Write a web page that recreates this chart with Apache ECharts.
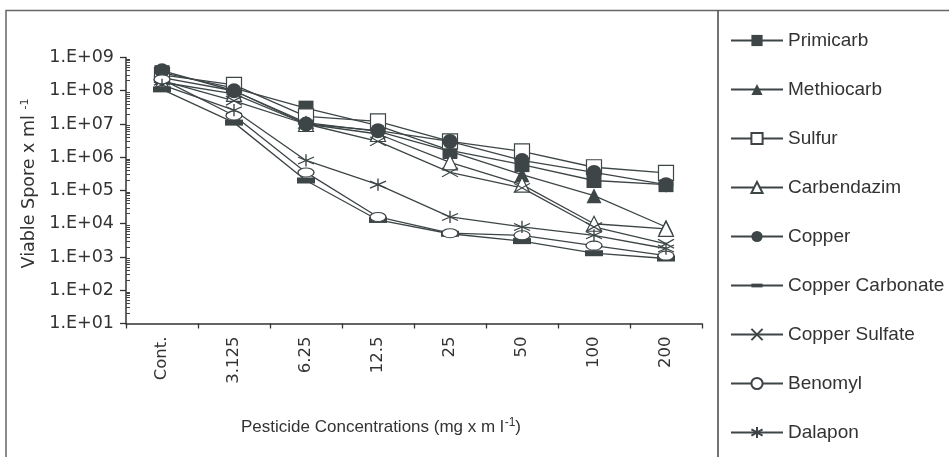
<!DOCTYPE html>
<html>
<head>
<meta charset="utf-8" />
<style>
  html, body { margin: 0; padding: 0; background: #fff; }
  #chart { width: 949px; height: 457px; }
</style>
<script src="https://cdn.jsdelivr.net/npm/echarts@6/dist/echarts.min.js"></script>
</head>
<body>
<div id="chart"></div>
<script>
  // concentrations on the x axis
  const concentrations = ['Cont.', '3.125', '6.25', '12.5', '25', '50', '100', '200']

  // viable spores per ml
  const primicarb       = [3.5e8, 1.2e8, 3.0e7, 9.0e6, 1.6e6, 6.0e5, 2.0e5, 1.5e5]
  const methiocarb      = [2.5e8, 1.0e8, 1.1e7, 6.0e6, 1.5e6, 3.0e5, 7.0e4, 8.0e3]
  const sulfur          = [3.0e8, 1.5e8, 1.7e7, 1.2e7, 3.0e6, 1.5e6, 5.0e5, 3.4e5]
  const carbendazim     = [1.8e8, 8.0e7, 1.0e7, 5.0e6, 7.0e5, 1.5e5, 1.0e4, 7.0e3]
  const copper          = [4.0e8, 1.0e8, 1.0e7, 6.3e6, 3.0e6, 8.0e5, 3.5e5, 1.5e5]
  const copperCarbonate = [1.1e8, 1.1e7, 2.0e5, 1.3e4, 5.0e3, 3.0e3, 1.3e3, 9.0e2]
  const copperSulfate   = [2.0e8, 5.0e7, 1.0e7, 3.0e6, 3.5e5, 1.2e5, 8.0e3, 2.5e3]
  const benomyl         = [2.2e8, 1.8e7, 3.5e5, 1.6e4, 5.2e3, 4.5e3, 2.2e3, 1.1e3]
  const dalapon         = [1.5e8, 2.6e7, 8.0e5, 1.5e5, 1.6e4, 8.0e3, 4.5e3, 1.8e3]

  // y tick labels, one per decade
  const yTickExponents = [1, 2, 3, 4, 5, 6, 7, 8, 9]
  const yTickLabels = ['1.E+01', '1.E+02', '1.E+03', '1.E+04', '1.E+05', '1.E+06', '1.E+07', '1.E+08', '1.E+09']

  const ink = '#3d4547'

  // minor ticks 2..9 inside each decade
  const minorTicks = []
  for (let k = 1; k < 9; k++) {
    for (let m = 2; m <= 9; m++) minorTicks.push(m * Math.pow(10, k))
  }

  const SYM_X = 'path://M0,0L16,12M16,0L0,12'
  const SYM_STAR = 'path://M8,0V14M0,3L16,11M0,11L16,3'
  // square bounding box with a flat bar in the middle, so the legend keeps it flat too
  const SYM_BAR = 'path://M0,0M30,30M0,10H30V20H0Z'
  const SYM_ELLIPSE = 'path://M0,6A8,6 0 1,1 16,6A8,6 0 1,1 0,6Z'

  function mkSeries(name, data, symbol, size, fill, stroke) {
    return {
      name: name,
      type: 'line',
      data: data,
      symbol: symbol,
      symbolSize: size,
      symbolKeepAspect: true,
      showAllSymbol: true,
      lineStyle: { color: ink, width: 1.3 },
      itemStyle: { color: fill, borderColor: ink, borderWidth: stroke },
      emphasis: { disabled: true },
      animation: false
    }
  }

  const series = [
    mkSeries('Primicarb', primicarb, 'rect', 15, ink, 0),
    mkSeries('Methiocarb', methiocarb, 'triangle', 15, ink, 0),
    mkSeries('Sulfur', sulfur, 'rect', 15, '#fff', 1.2),
    mkSeries('Carbendazim', carbendazim, 'triangle', 15, '#fff', 1.2),
    mkSeries('Copper', copper, 'circle', 15, ink, 0),
    mkSeries('Copper Carbonate', copperCarbonate, SYM_BAR, 18, ink, 0),
    mkSeries('Copper Sulfate', copperSulfate, SYM_X, [16, 12], 'none', 1.3),
    mkSeries('Benomyl', benomyl, SYM_ELLIPSE, [16, 12], '#fff', 1.2),
    mkSeries('Dalapon', dalapon, SYM_STAR, [16, 14], 'none', 1.3)
  ]

  const myChart = echarts.init(document.getElementById('chart'))

  const option = {
    animation: false,
    textStyle: { fontFamily: 'DejaVu Sans', color: '#333' },
    grid: { left: 126, top: 57.5, width: 576, height: 266 },
    legend: {
      orient: 'vertical',
      left: 730,
      top: 31,
      padding: 0,
      itemWidth: 52,
      itemHeight: 14,
      itemGap: 30,
      textStyle: { fontFamily: 'Liberation Sans', fontSize: 19, lineHeight: 19, color: '#333' },
      selectedMode: false,
      data: series.map(s => s.name)
    },
    xAxis: {
      type: 'category',
      data: concentrations,
      boundaryGap: true,
      axisLine: { lineStyle: { color: '#333', width: 1.5 } },
      axisTick: { show: true, length: 5, lineStyle: { color: '#333', width: 1.3 } },
      axisLabel: { rotate: 90, fontSize: 16.5, color: '#333', margin: 13, fontFamily: 'DejaVu Sans' },
      name: 'Pesticide Concentrations (mg x m l{sup|-1})',
      nameLocation: 'middle',
      nameGap: 93,
      nameTextStyle: {
        fontFamily: 'Liberation Sans', fontSize: 17, color: '#333',
        padding: [0, 66, 0, 0],
        rich: { sup: { fontFamily: 'Liberation Sans', fontSize: 12, padding: [0, 0, 9, 1], color: '#333' } }
      }
    },
    yAxis: [
      {
        type: 'log',
        logBase: 10,
        min: 10,
        max: 1e9,
        splitNumber: 8,
        axisLine: { show: true, lineStyle: { color: '#333', width: 1.5 } },
        axisTick: { show: true, length: 6, lineStyle: { color: '#333', width: 1.3 } },
        splitLine: { show: false },
        axisLabel: {
          fontSize: 17.5,
          color: '#333',
          margin: 12,
          fontFamily: 'DejaVu Sans',
          formatter: function (v) {
            const e = Math.round(Math.log10(v))
            const i = yTickExponents.indexOf(e)
            return i >= 0 ? yTickLabels[i] : ''
          }
        },
        name: 'Viable Spore x ml {sup|-1}',
        nameLocation: 'middle',
        nameGap: 82,
        nameTextStyle: {
          fontFamily: 'DejaVu Sans', fontSize: 17.5, color: '#333',
          padding: [0, 0, 0, 14],
          rich: { sup: { fontFamily: 'DejaVu Sans', fontSize: 11, padding: [0, 0, 9, 0], color: '#333' } }
        }
      },
      {
        type: 'log',
        logBase: 10,
        min: 10,
        max: 1e9,
        position: 'left',
        axisLine: { show: false },
        axisLabel: { show: false },
        splitLine: { show: false },
        axisTick: {
          show: true,
          inside: true,
          length: 4,
          customValues: minorTicks,
          lineStyle: { color: '#444', width: 1 }
        }
      }
    ],
    graphic: [
      {
        type: 'rect',
        shape: { x: 6, y: 10.5, width: 1000, height: 500 },
        style: { fill: 'none', stroke: '#666', lineWidth: 1.5 },
        silent: true
      },
      {
        type: 'line',
        shape: { x1: 718, y1: 10.5, x2: 718, y2: 470 },
        style: { stroke: '#444', lineWidth: 1.5 },
        silent: true
      }
    ],
    series: series
  }

  myChart.setOption(option)
</script>
</body>
</html>
